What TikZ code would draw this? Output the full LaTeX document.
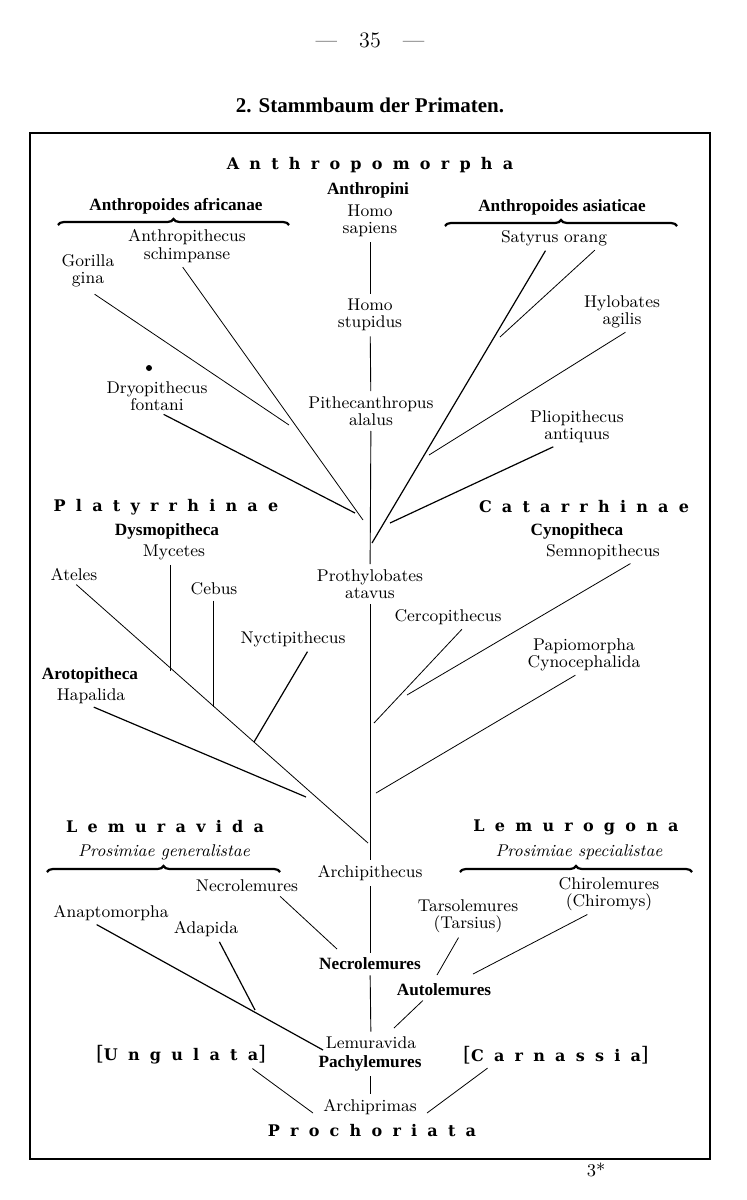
\documentclass[tikz,border=0pt]{standalone}
\usepackage{fontspec}
\newfontfamily\headfont{Liberation Serif}
\newfontfamily\spacedfont[LetterSpace=64]{DejaVu Serif}
\usetikzlibrary{decorations.pathreplacing}
\tikzset{
  x=0.5pt, y=-0.5pt, % one unit is one pixel of the printed page
  taxon/.style={font=\fontsize{8.5}{8.6}\selectfont, align=center, inner sep=1pt}, % plain genus names
  group/.style={font=\headfont\bfseries\fontsize{8.6}{9}\selectfont, inner sep=1pt}, % bold sub-groups
  clade/.style={font=\spacedfont\bfseries\fontsize{8}{9}\selectfont, inner sep=1pt}, % letter-spaced big groups
  latin/.style={taxon, font=\fontsize{8.5}{8.6}\selectfont\itshape}, % italic remarks
  branch/.style={line width=0.4pt, shorten <=1.5pt}, % thin branches
  heavy/.style={branch, line width=0.6pt}, % darker branches
  stem/.style={line width=0.45pt, shorten <=1.5pt, shorten >=1.5pt}, % the main trunk
  curly/.style={decorate, decoration={brace, amplitude=3pt}, line width=1.1pt},
}
\newcommand{\sqb}[1]{{\mdseries\fontsize{10}{10}\selectfont #1}}
\begin{document}
\begin{tikzpicture}
  \useasboundingbox (0,0) rectangle (747,1200);
  \node[font=\fontsize{11}{12}\selectfont] (page) at (370,40) {—\quad 35\quad —};
  \node[font=\headfont\bfseries\fontsize{10.5}{12}\selectfont] (title) at (370,105) {2. Stammbaum der Primaten.};
  \draw[line width=0.6pt] (30,133) rectangle (710,1159);
  \draw[line width=1pt] (30,1159) -- (711,1159);

  % Anthropomorpha
  \node[clade] (anthropomorpha) at (370,165) {Anthropomorpha};
  \node[group] (anthropini)     at (368,190) {Anthropini};
  \node[group] (africanae)      at (176,206) {Anthropoides africanae};
  \node[group] (asiaticae)      at (562,207) {Anthropoides asiaticae};
  \draw[curly] (58,225) -- (289,225);
  \draw[curly] (445,226) -- (677,226);
  \node[taxon] (homo)            at (370,221) {Homo\\sapiens};
  \node[taxon] (stupidus)        at (370,315) {Homo\\stupidus};
  \node[taxon] (pithecanthropus) at (371,411) {Pithecanthropus\\alalus};
  \node[taxon] (gorilla)         at (88,271)  {Gorilla\\gina};
  \node[taxon] (schimpanse)      at (187,246) {Anthropithecus\\schimpanse};
  \node[taxon] (dryopithecus)    at (157,396) {Dryopithecus\\fontani};
  \node[circle, fill, inner sep=0pt, minimum size=3pt] (fossil) at (149,368) {};
  \node[taxon] (orang)           at (554,238) {Satyrus orang};
  \node[taxon] (hylobates)       at (622,312) {Hylobates\\agilis};
  \node[taxon] (pliopithecus)    at (577,427) {Pliopithecus\\antiquus};

  % Platyrrhinae and Catarrhinae
  \node[clade] (platyrrhinae)  at (166,507) {Platyrrhinae};
  \node[group] (dysmopitheca)  at (167,531) {Dysmopitheca};
  \node[taxon] (mycetes)       at (174,552) {Mycetes};
  \node[taxon] (ateles)        at (74,574)  {Ateles};
  \node[taxon] (cebus)         at (214,589) {Cebus};
  \node[taxon] (prothylobates) at (370,584) {Prothylobates\\atavus};
  \node[clade] (catarrhinae)   at (584,507) {Catarrhinae};
  \node[group] (cynopitheca)   at (577,531) {Cynopitheca};
  \node[taxon] (semnopithecus) at (603,552) {Semnopithecus};
  \node[taxon] (cercopithecus) at (448,617) {Cercopithecus};
  \node[taxon] (nyctipithecus) at (293,639) {Nyctipithecus};
  \node[taxon] (papiomorpha)   at (584,655) {Papiomorpha\\Cynocephalida};
  \node[group] (arctopitheca)  at (90,675)  {Arotopitheca};
  \node[taxon] (hapalida)      at (91,696)  {Hapalida};

  % Lemuravida and Lemurogona
  \node[clade] (lemuravidaGroup) at (165,827) {Lemuravida};
  \node[clade] (lemurogona)      at (576,827) {Lemurogona};
  \node[latin] (generalistae)    at (164,852) {Prosimiae generalistae};
  \node[latin] (specialistae)    at (579,852) {Prosimiae specialistae};
  \draw[curly] (47,872) -- (280,872);
  \draw[curly] (460,872) -- (692,872);
  \node[taxon] (archipithecus) at (370,873)  {Archipithecus};
  \node[taxon] (necrolemures)  at (247,886)  {Necrolemures};
  \node[taxon] (chirolemures)  at (609,894)  {Chirolemures\\(Chiromys)};
  \node[taxon] (anaptomorpha)  at (111,913)  {Anaptomorpha};
  \node[taxon] (tarsolemures)  at (468,916)  {Tarsolemures\\(Tarsius)};
  \node[taxon] (adapida)       at (206,929)  {Adapida};
  \node[group] (necroBold)     at (370,964)  {Necrolemures};
  \node[group] (autolemures)   at (444,990)  {Autolemures};
  \node[taxon] (lemuravida)    at (371,1043) {Lemuravida};
  \node[group] (pachylemures)  at (370,1063) {Pachylemures};
  \node[clade] (ungulata)      at (181,1055) {\sqb{[}Ungulata\sqb{]}};
  \node[clade] (carnassia)     at (556,1055) {\sqb{[}Carnassia\sqb{]}};
  \node[taxon] (archiprimas)   at (370,1107) {Archiprimas};
  \node[clade] (prochoriata)   at (372,1131) {Prochoriata};
  \node[font=\fontsize{9}{10}\selectfont] (sheet) at (596,1170) {3*};

  % where the branches meet
  \coordinate (jGorilla)   at (289,425);
  \coordinate (jSchimp)    at (363,520);
  \coordinate (jDryo)      at (355,513);
  \coordinate (jSatyrus)   at (372,543);
  \coordinate (jOrang)     at (500,337);
  \coordinate (jHylobates) at (429,455);
  \coordinate (jPlio)      at (390,523);
  \coordinate (jAteles)    at (368,843);
  \coordinate (jMycetes)   at (170,671);
  \coordinate (jCebus)     at (213,707);
  \coordinate (jNycti)     at (254,742);
  \coordinate (jHapalida)  at (306,797);
  \coordinate (jCerco)     at (374,723);
  \coordinate (jSemno)     at (407,695);
  \coordinate (jPapio)     at (376,793);
  \coordinate (jNecro)     at (337,949);
  \coordinate (jTarso)     at (437,975);
  \coordinate (jChiro)     at (473,974);
  \coordinate (jAuto)      at (394,1028);
  \coordinate (jAnapto)    at (323,1050);
  \coordinate (jAdapida)   at (255,1010);
  \coordinate (jUngulata)  at (313,1113);
  \coordinate (jCarnassia) at (427,1113);

  % trunk
  \draw[stem] (homo) -- (stupidus);
  \draw[stem] (stupidus) -- (pithecanthropus);
  \draw[stem] (pithecanthropus) -- (prothylobates);
  \draw[stem] (prothylobates) -- (archipithecus);
  \draw[stem] (archipithecus) -- (necroBold);
  \draw[stem] (necroBold) -- (lemuravida);
  \draw[stem] (pachylemures) -- (archiprimas);

  % branches
  \draw[branch, shorten <=4pt] (gorilla.south) -- (jGorilla);
  \draw[branch] ([xshift=-3pt]schimpanse.south) -- (jSchimp);
  \draw[heavy] ([xshift=2pt]dryopithecus.south) -- (jDryo);
  \draw[heavy] ([xshift=-3.5pt]orang.south) -- (jSatyrus);
  \draw[branch] ([xshift=21.5pt]orang.south) -- (jOrang);
  \draw[branch] ([xshift=3pt]hylobates.south) -- (jHylobates);
  \draw[heavy] ([xshift=-10.5pt]pliopithecus.south) -- (jPlio);
  \draw[branch] (ateles.south) -- (jAteles);
  \draw[branch] ([xshift=-2pt]mycetes.south) -- (jMycetes);
  \draw[branch] ([xshift=-0.5pt]cebus.south) -- (jCebus);
  \draw[heavy] ([xshift=8pt]nyctipithecus.south) -- (jNycti);
  \draw[heavy] (hapalida.south) -- (jHapalida);
  \draw[branch] ([xshift=8pt]cercopithecus.south) -- (jCerco);
  \draw[branch] ([xshift=15pt]semnopithecus.south) -- (jSemno);
  \draw[branch] ([xshift=-3pt]papiomorpha.south) -- (jPapio);
  \draw[branch] ([xshift=15.5pt]necrolemures.south) -- (jNecro);
  \draw[branch] ([xshift=-4pt]tarsolemures.south) -- (jTarso);
  \draw[branch] ([xshift=-9.5pt]chirolemures.south) -- (jChiro);
  \draw[heavy] ([xshift=-8.5pt]anaptomorpha.south) -- (jAnapto);
  \draw[heavy] ([xshift=6pt]adapida.south) -- (jAdapida);
  \draw[branch] ([xshift=-9.5pt]autolemures.south) -- (jAuto);
  \draw[branch] ([xshift=34.5pt]ungulata.south) -- (jUngulata);
  \draw[branch] ([xshift=-33pt]carnassia.south) -- (jCarnassia);
\end{tikzpicture}
\end{document}
